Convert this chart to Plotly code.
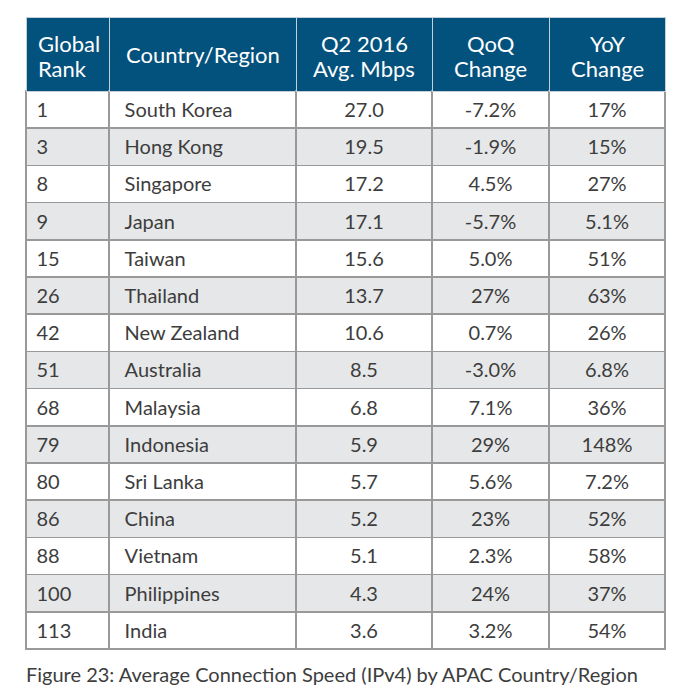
import plotly.graph_objects as go

ranks = ["1", "3", "8", "9", "15", "26", "42", "51", "68", "79", "80", "86", "88", "100", "113"]
countries = ["South Korea", "Hong Kong", "Singapore", "Japan", "Taiwan", "Thailand", "New Zealand",
             "Australia", "Malaysia", "Indonesia", "Sri Lanka", "China", "Vietnam", "Philippines", "India"]
avg_mbps = ["27.0", "19.5", "17.2", "17.1", "15.6", "13.7", "10.6", "8.5", "6.8", "5.9", "5.7", "5.2", "5.1", "4.3", "3.6"]
qoq = ["-7.2%", "-1.9%", "4.5%", "-5.7%", "5.0%", "27%", "0.7%", "-3.0%", "7.1%", "29%", "5.6%", "23%", "2.3%", "24%", "3.2%"]
yoy = ["17%", "15%", "27%", "5.1%", "51%", "63%", "26%", "6.8%", "36%", "148%", "7.2%", "52%", "58%", "37%", "54%"]
headers = [["Global", "Rank"], ["Country/Region"], ["Q2 2016", "Avg. Mbps"], ["QoQ", "Change"], ["YoY", "Change"]]
caption = "Figure 23: Average Connection Speed (IPv4) by APAC Country/Region"

W, H = 689, 695
OFF = 8  # page body margin
def px(x):
    return (x - OFF) / W
def py(y):
    return 1 - (y - OFF) / H

bounds = [26, 109, 296, 432, 549, 665]
col_w = [bounds[i + 1] - bounds[i] for i in range(5)]
top, header_h, row_h = 17, 74, 37.2
n = len(ranks)
FONT = "Lato, Open Sans, sans-serif"
TXT = "#3d3d3d"
row_fill = ["white" if i % 2 == 0 else "#e6e7e8" for i in range(n)]
bottom = top + header_h + n * row_h + 10
TEXT_SHIFT = 3  # px, to centre text vertically in rows

fig = go.Figure()
# grid / fills
fig.add_trace(go.Table(
    columnwidth=col_w,
    domain=dict(x=[px(bounds[0]), px(bounds[-1])], y=[py(bottom), py(top)]),
    header=dict(values=[""] * 5, fill_color="#03527D",
                line=dict(color="#c5cfd6", width=1), height=header_h),
    cells=dict(values=[[""] * n] * 5, fill_color=[row_fill] * 5,
               line=dict(color="#999999", width=1.5), height=row_h),
))
# cell text
fig.add_trace(go.Table(
    columnwidth=col_w,
    domain=dict(x=[px(bounds[0]), px(bounds[-1])], y=[py(bottom + TEXT_SHIFT), py(top + TEXT_SHIFT)]),
    header=dict(values=[""] * 5, fill_color="rgba(0,0,0,0)",
                line=dict(color="rgba(0,0,0,0)", width=0), height=header_h),
    cells=dict(
        values=[["\u2009" + r for r in ranks], ["\u00a0\u2009" + c for c in countries], avg_mbps, qoq, yoy],
        fill_color="rgba(0,0,0,0)",
        line=dict(color="rgba(0,0,0,0)", width=0),
        font=dict(family=FONT, size=20, color=TXT),
        align=["left", "left", "center", "center", "center"],
        height=row_h,
    ),
))

# header labels
for i, lines in enumerate(headers):
    if i < 2:
        x, anchor = bounds[i] + (11 if i == 0 else 16), "left"
    else:
        x, anchor = (bounds[i] + bounds[i + 1]) / 2, "center"
    ys = [55] if len(lines) == 1 else [43, 68]
    for line, y in zip(lines, ys):
        fig.add_annotation(text=line, x=px(x), y=py(y), xref="paper", yref="paper",
                           xanchor=anchor, yanchor="middle", showarrow=False, borderpad=0,
                           font=dict(family=FONT, size=22, color="white"))

fig.add_annotation(
    text=caption, x=px(24), y=py(674), xref="paper", yref="paper",
    xanchor="left", yanchor="middle", showarrow=False,
    font=dict(family=FONT, size=20, color=TXT),
)

fig.update_layout(width=W, height=H, margin=dict(l=0, r=0, t=0, b=0),
                  paper_bgcolor="white", plot_bgcolor="white")
fig.write_html("out.html")
